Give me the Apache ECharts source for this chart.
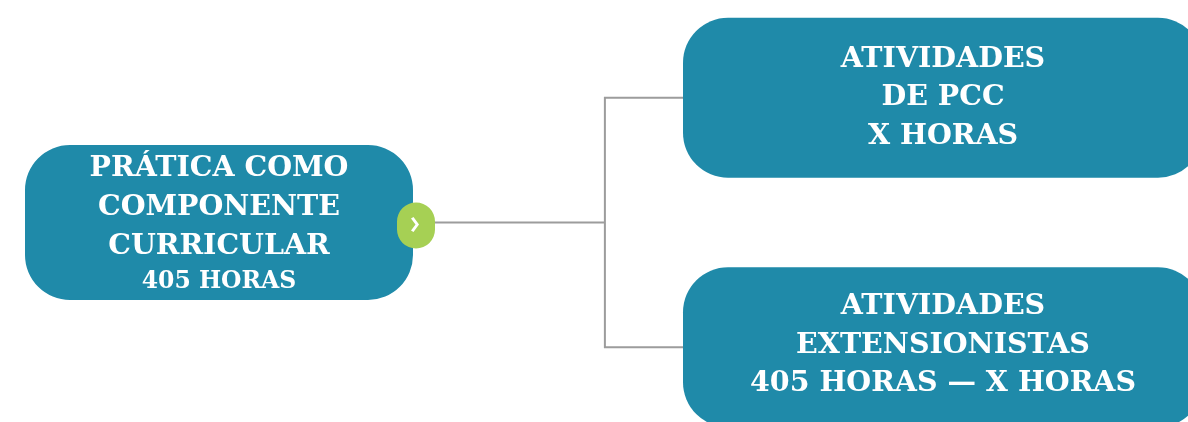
<!DOCTYPE html>
<html>
<head>
<meta charset="utf-8">
<script src="https://cdn.jsdelivr.net/npm/echarts@6/dist/echarts.min.js"></script>
<style>html,body{margin:0;padding:0;background:#fff;}#c{width:1188px;height:422px;}</style>
</head>
<body>
<div id="c"></div>
<script>
// Data
const rootLines = ['PRÁTICA COMO', 'COMPONENTE', 'CURRICULAR'];
const rootHours = '405 HORAS';
const childA = ['ATIVIDADES', 'DE PCC', 'X HORAS'];
const childB = ['ATIVIDADES', 'EXTENSIONISTAS', '405 HORAS — X HORAS'];

const TEAL = '#1f8aa9';
const GREEN = '#a6d054';
const LINE = '#9c9c9c';
const FONT = 'DejaVu Serif';

function roundRectPath(w, h, r) {
  return 'path://M' + r + ',0 H' + (w - r) + ' A' + r + ',' + r + ' 0 0 1 ' + w + ',' + r +
    ' V' + (h - r) + ' A' + r + ',' + r + ' 0 0 1 ' + (w - r) + ',' + h +
    ' H' + r + ' A' + r + ',' + r + ' 0 0 1 0,' + (h - r) +
    ' V' + r + ' A' + r + ',' + r + ' 0 0 1 ' + r + ',0 Z';
}

const rootW = 388, rootH = 155;
const childW = 520, childH = 160;

const richStyle = {
  a: { color: '#fff', fontFamily: FONT, fontWeight: 'bold', fontSize: 28.5, lineHeight: 39 },
  b: { color: '#fff', fontFamily: FONT, fontWeight: 'bold', fontSize: 23.5, lineHeight: 32 },
  c: { color: '#fff', fontFamily: FONT, fontWeight: 'bold', fontSize: 28.5, lineHeight: 38.5 }
};

function childNode(lines, dy) {
  return {
    name: lines.join('\n'),
    symbol: roundRectPath(childW, childH, 45),
    symbolSize: [childW, childH],
    itemStyle: { color: TEAL },
    label: {
      show: true, position: 'inside', offset: [0, dy],
      formatter: lines.map(l => '{c|' + l + '}').join('\n'),
      rich: richStyle
    }
  };
}

const mainData = [{
  name: rootLines.join('\n') + '\n' + rootHours,
  symbol: roundRectPath(rootW, rootH, 45),
  symbolSize: [rootW, rootH],
  itemStyle: { color: TEAL },
  label: {
    show: true, position: 'inside', offset: [0, 1],
    formatter: rootLines.map(l => '{a|' + l + '}').join('\n') + '\n{b|' + rootHours + '}',
    rich: richStyle
  },
  children: [childNode(childA, 0), childNode(childB, -2)]
}];

function overlayData(symbol, size, offset, color) {
  return [{
    name: 'root',
    symbol: symbol,
    symbolSize: size,
    symbolOffset: offset,
    itemStyle: { color: color },
    label: { show: false },
    children: [
      { name: 'a', symbol: 'none', label: { show: false } },
      { name: 'b', symbol: 'none', label: { show: false } }
    ]
  }];
}

const common = {
  type: 'tree',
  orient: 'LR',
  left: 219, right: 245, top: -27, bottom: -50,
  expandAndCollapse: false,
  initialTreeDepth: -1,
  roam: false,
  animation: false,
  edgeShape: 'polyline',
  edgeForkPosition: '53.3%',
  emphasis: { disabled: true },
  silent: true
};

const chart = echarts.init(document.getElementById('c'), null, { renderer: 'canvas' });
chart.setOption({
  animation: false,
  series: [
    Object.assign({}, common, {
      data: mainData, z: 2,
      lineStyle: { color: LINE, width: 2, curveness: 0 }
    }),
    Object.assign({}, common, {
      data: overlayData(roundRectPath(38, 46, 19), [38, 46], [197, 3], GREEN), z: 3,
      lineStyle: { color: 'rgba(0,0,0,0)', width: 0 }
    }),
    Object.assign({}, common, {
      data: overlayData('path://M0,1.5 L2.5,0 L8,7.5 L2.5,15 L0,13.5 L4.5,7.5 Z', [8, 15], [196, 2], '#ffffff'), z: 4,
      lineStyle: { color: 'rgba(0,0,0,0)', width: 0 }
    })
  ]
});
</script>
</body>
</html>
